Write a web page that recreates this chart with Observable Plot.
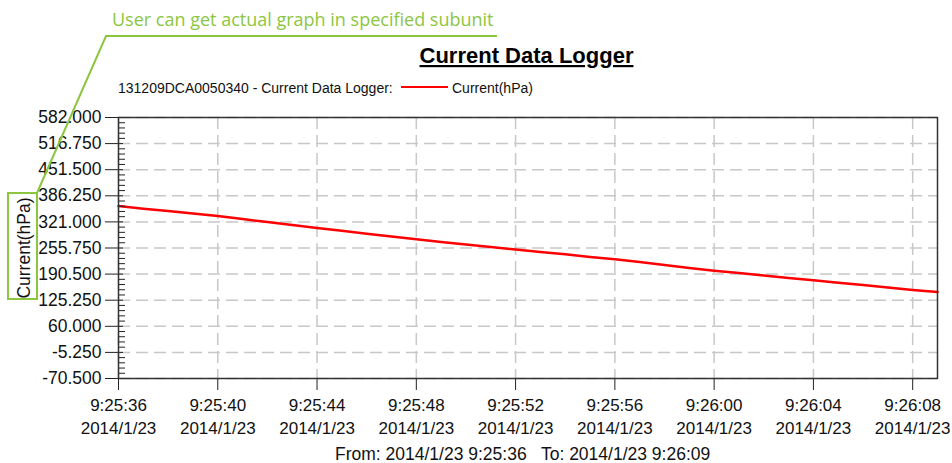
<!DOCTYPE html>
<html><head><meta charset="utf-8">
<script src="https://cdn.jsdelivr.net/npm/d3@7"></script>
<script src="https://cdn.jsdelivr.net/npm/@observablehq/plot@0.6"></script>
<style>
body{margin:0;background:#fff;}
#wrap{position:relative;width:952px;height:463px;overflow:hidden;}
#wrap svg{position:absolute;left:0;top:0;}
#overlay{pointer-events:none;}
</style></head><body>
<div id="wrap"></div>
<script>
// Elapsed seconds since 2014/1/23 9:25:36 and current readings (hPa)
const seconds = [0,1,2,3,4,5,6,7,8,9,10,11,12,13,14,15,16,17,18,19,20,21,22,23,24,25,26,27,28,29,30,31,32,33];
const values = [360.5,354,348,342,335.5,328,320.5,313,306,299,291.5,284.5,277.5,271,264.5,258,252,246,240,233.5,227.5,220.5,213,206,199,193,187,181,175,169,163,157,151,145.5];
const xTickSeconds = [0,4,8,12,16,20,24,28,32];
const yTickValues = [-70.5,-5.25,60,125.25,190.5,255.75,321,386.25,451.5,516.75,582];
const dateLabel = "2014/1/23";
const titleText = "Current Data Logger";
const legendPrefix = "131209DCA0050340 - Current Data Logger:";
const seriesName = "Current(hPa)";
const footerText = "From: 2014/1/23 9:25:36   To: 2014/1/23 9:26:09";
const noteText = "User can get actual graph in specified subunit";

const startUTC = Date.UTC(2014, 0, 23, 9, 25, 36);
const toDate = s => new Date(startUTC + s * 1000);
const data = seconds.map((s, i) => ({t: toDate(s), v: values[i]}));
const xTicks = xTickSeconds.map(toDate);
const yMinor = [];
for (let i = 0; i < yTickValues.length - 1; i++) {
  const a = yTickValues[i], step = (yTickValues[i + 1] - a) / 5;
  for (let j = 1; j < 5; j++) yMinor.push(a + step * j);
}
const pad = n => String(n).padStart(2, "0");
const fmtX = d => `${d.getUTCHours()}:${pad(d.getUTCMinutes())}:${pad(d.getUTCSeconds())}\n${dateLabel}`;
const gridStyle = {stroke: "#c8c8c8", strokeOpacity: 1, strokeWidth: 1.5, strokeDasharray: "12,6"};

const chart = Plot.plot({
  width: 952, height: 463,
  marginLeft: 118, marginRight: 15, marginTop: 117, marginBottom: 85,
  style: {fontFamily: "'Liberation Sans', Arial, sans-serif", fontSize: "16px", color: "#111", background: "transparent"},
  x: {type: "utc", domain: [toDate(0), toDate(33)]},
  y: {domain: [-70.5, 582]},
  marks: [
    Plot.gridY(yTickValues, gridStyle),
    Plot.gridX(xTicks, gridStyle),
    Plot.line(data, {x: "t", y: "v", stroke: "#ff0000", strokeWidth: 2.5}),
    Plot.axisY(yMinor, {anchor: "left", tickSize: -7, tickFormat: () => "", label: null, stroke: "#222"}),
    Plot.axisY(yTickValues, {anchor: "left", tickSize: -5, tickFormat: () => "", label: null, stroke: "#222"}),
    Plot.axisY(yTickValues, {anchor: "left", tickSize: 13, tickPadding: 4, tickFormat: d => d.toFixed(3),
      label: seriesName, labelAnchor: "center", labelArrow: "none", labelOffset: 101, fontSize: 17.5, stroke: "#222"}),
    Plot.axisX(xTicks, {anchor: "bottom", tickSize: 12, tickPadding: 4, tickFormat: fmtX, lineHeight: 1.35,
      label: null, fontSize: 17, stroke: "#222"}),
    Plot.frame({stroke: "#333", strokeWidth: 1.5})
  ]
});
const wrap = document.getElementById("wrap");
wrap.appendChild(chart);

const ns = "http://www.w3.org/2000/svg";
const ov = document.createElementNS(ns, "svg");
ov.setAttribute("id", "overlay");
ov.setAttribute("width", 952); ov.setAttribute("height", 463);
function el(tag, attrs, text) {
  const e = document.createElementNS(ns, tag);
  for (const k in attrs) e.setAttribute(k, attrs[k]);
  if (text != null) e.textContent = text;
  ov.appendChild(e);
  return e;
}
const green = "#8cc63f";
el("text", {x: 112, y: 26, fill: green, "font-family": "'Open Sans', sans-serif", "font-size": 18}, noteText);
el("polyline", {points: "497,36 106,36 37,193", fill: "none", stroke: green, "stroke-width": 2});
el("rect", {x: 8, y: 193, width: 29, height: 106, fill: "none", stroke: green, "stroke-width": 2});
el("text", {x: 526.5, y: 63, "text-anchor": "middle", "font-family": "'Liberation Sans', Arial, sans-serif",
  "font-size": 22, "font-weight": "bold", fill: "#000", style: "text-decoration: underline"}, titleText);
el("text", {x: 118, y: 92.5, "font-family": "'Liberation Sans', Arial, sans-serif", "font-size": 14, fill: "#111"}, legendPrefix);
el("line", {x1: 401, x2: 448, y1: 87, y2: 87, stroke: "#ff0000", "stroke-width": 2});
el("text", {x: 452, y: 92.5, "font-family": "'Liberation Sans', Arial, sans-serif", "font-size": 14, fill: "#111"}, seriesName);
el("text", {x: 335, y: 460, "font-family": "'Liberation Sans', Arial, sans-serif", "font-size": 17.5, fill: "#111",
  style: "white-space: pre"}, footerText);
wrap.appendChild(ov);
</script>
</body></html>
